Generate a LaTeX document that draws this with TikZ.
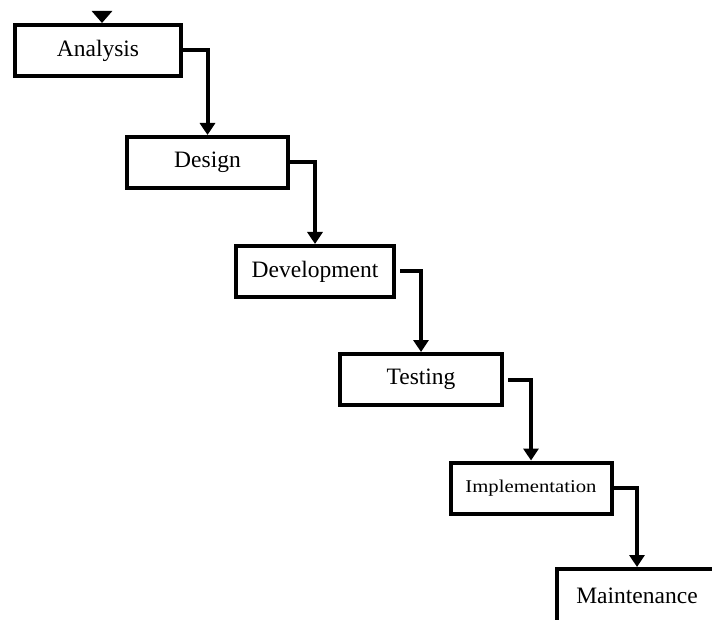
\documentclass[tikz,border=0pt]{standalone}
\usepackage{fontspec}
\setmainfont{Liberation Serif}
\usepackage{graphicx}
\usetikzlibrary{arrows.meta}
\begin{document}
\begin{tikzpicture}[x=1pt,y=-1pt,
  stage/.style={draw, line width=4pt, minimum height=51pt, inner sep=0pt,
    font=\fontsize{23.5}{28}\selectfont},
  flow/.style={line width=4pt, -{Triangle[length=12pt,width=15pt]}},
  entrytip/.style={line width=4pt, -{Triangle[length=12pt,width=20pt]}},
]
\useasboundingbox (0,0) rectangle (712,620);
\clip (0,0) rectangle (712,620);

% waterfall stages
\node[stage, minimum width=166pt] (analysis) at (98,50.5) {Analysis};
\node[stage, minimum width=161pt] (design) at (207.5,162.5) {Design};
\node[stage, minimum width=158pt] (development) at (315,271.5) {Development};
\node[stage, minimum width=162pt] (testing) at (421,379.5) {Testing};
\node[stage, minimum width=161pt] (implementation) at (531,488)
  {\scalebox{1.15}[1]{\fontsize{18}{22}\selectfont Implementation}};
\node[stage, minimum width=160pt, minimum height=54pt] (maintenance) at (637,596) {Maintenance};

% entry marker above the first stage
\coordinate (entry) at (102,11);
\draw[entrytip] (entry) -- (entry |- analysis.north);

% step-down connectors
\draw[flow] (analysis.east) -| (design.north);
\draw[flow] (design.east) -| (development.north);
\draw[flow, shorten <=4pt] (development.east) -| (testing.north);
\draw[flow, shorten <=4pt] (testing.east) -| (implementation.north);
\draw[flow] (implementation.east) -| (maintenance.north);
\end{tikzpicture}
\end{document}
